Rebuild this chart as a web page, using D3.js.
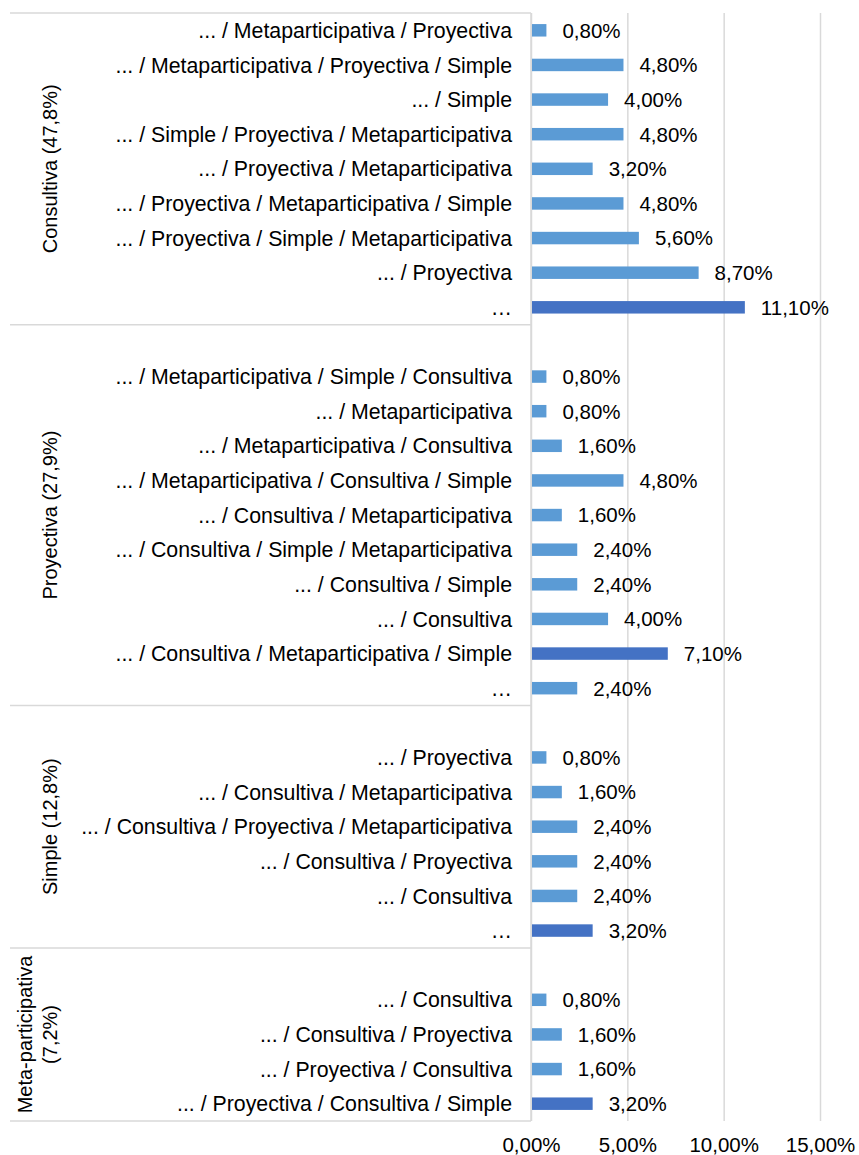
<!DOCTYPE html>
<html>
<head>
<meta charset="utf-8">
<script src="https://cdn.jsdelivr.net/npm/d3@7"></script>
<style>
  body { margin: 0; background: #fff; }
  text { font-family: "Liberation Sans", Arial, sans-serif; fill: #000; }
</style>
</head>
<body>
<svg id="chart" width="859" height="1155"></svg>
<script>
// group names (left, rotated)
var groupNames = ["Consultiva (47,8%)", "Proyectiva (27,9%)", "Simple (12,8%)", ["Meta-participativa", "(7,2%)"]];

// categories and values per group ("" = empty row in the original axis)
var consultivaCats = ["... / Metaparticipativa / Proyectiva", "... / Metaparticipativa / Proyectiva / Simple", "... / Simple",
    "... / Simple / Proyectiva / Metaparticipativa", "... / Proyectiva / Metaparticipativa", "... / Proyectiva / Metaparticipativa / Simple",
    "... / Proyectiva / Simple / Metaparticipativa", "... / Proyectiva", "\u2026"];
var consultivaVals = [0.8, 4.8, 4.0, 4.8, 3.2, 4.8, 5.6, 8.7, 11.1];

var proyectivaCats = ["", "... / Metaparticipativa / Simple / Consultiva", "... / Metaparticipativa", "... / Metaparticipativa / Consultiva",
    "... / Metaparticipativa / Consultiva / Simple", "... / Consultiva / Metaparticipativa", "... / Consultiva / Simple / Metaparticipativa",
    "... / Consultiva / Simple", "... / Consultiva", "... / Consultiva / Metaparticipativa / Simple", "\u2026"];
var proyectivaVals = [null, 0.8, 0.8, 1.6, 4.8, 1.6, 2.4, 2.4, 4.0, 7.1, 2.4];

var simpleCats = ["", "... / Proyectiva", "... / Consultiva / Metaparticipativa", "... / Consultiva / Proyectiva / Metaparticipativa",
    "... / Consultiva / Proyectiva", "... / Consultiva", "\u2026"];
var simpleVals = [null, 0.8, 1.6, 2.4, 2.4, 2.4, 3.2];

var metaCats = ["", "... / Consultiva", "... / Consultiva / Proyectiva", "... / Proyectiva / Consultiva", "... / Proyectiva / Consultiva / Simple"];
var metaVals = [null, 0.8, 1.6, 1.6, 3.2];

var xTicks = [0, 5, 10, 15];

var groupCats = [consultivaCats, proyectivaCats, simpleCats, metaCats];
var groupVals = [consultivaVals, proyectivaVals, simpleVals, metaVals];

var rows = [];
groupCats.forEach(function (cats, g) {
    var max = d3.max(groupVals[g]);
    cats.forEach(function (c, i) {
        var v = groupVals[g][i];
        rows.push({ id: g + "-" + i, group: g, label: c, value: v, top: v === max });
    });
});

var svg = d3.select("#chart");
var plotLeft = 531, plotRight = 820, plotTop = 13, plotBottom = 1121, outerLeft = 10;
var gridColor = "#d9d9d9";
var light = "#5b9bd5", dark = "#4472c4";

var x = d3.scaleLinear().domain([0, 15]).range([plotLeft, plotRight]);
var y = d3.scaleBand()
    .domain(rows.map(function (r) { return r.id; }))
    .range([plotTop, plotBottom])
    .paddingInner(0.64)
    .paddingOuter(0.32);

var locale = d3.formatLocale({ decimal: ",", thousands: ".", grouping: [3], currency: ["", "€"] });
var fmt = locale.format(".2f");
var pct = function (v) { return fmt(v) + "%"; };

// value axis with gridlines
var xAxis = svg.append("g")
    .attr("transform", "translate(0," + plotBottom + ")")
    .call(d3.axisBottom(x).tickValues(xTicks).tickSize(-(plotBottom - plotTop)).tickFormat(pct));
xAxis.select(".domain").remove();
xAxis.selectAll(".tick line").attr("stroke", gridColor).attr("stroke-width", 1.5);
xAxis.selectAll(".tick text")
    .attr("y", 31)
    .attr("dy", 0)
    .style("font-size", "20.5px")
    .style("font-family", "'Liberation Sans', Arial, sans-serif")
    .attr("fill", "#000");

// category axis: group boundaries
var gap = (y.step() - y.bandwidth()) / 2;
var bounds = [plotTop];
groupCats.forEach(function (cats, g) {
    var last = rows.filter(function (r) { return r.group === g; }).pop();
    bounds.push(y(last.id) - gap + y.step());
});

svg.append("g").selectAll("line")
    .data(bounds)
    .enter().append("line")
    .attr("x1", outerLeft).attr("x2", plotLeft)
    .attr("y1", function (d) { return d; }).attr("y2", function (d) { return d; })
    .attr("stroke", gridColor).attr("stroke-width", 1.5);

svg.append("line")
    .attr("x1", plotLeft).attr("x2", plotLeft)
    .attr("y1", plotTop).attr("y2", plotBottom)
    .attr("stroke", gridColor).attr("stroke-width", 1.5);

// bars
var data = rows.filter(function (r) { return r.value != null; });
svg.append("g").selectAll("rect")
    .data(data)
    .enter().append("rect")
    .attr("x", x(0) + 1)
    .attr("y", function (d) { return y(d.id); })
    .attr("width", function (d) { return x(d.value) - x(0) - 1; })
    .attr("height", y.bandwidth())
    .attr("fill", function (d) { return d.top ? dark : light; });

// data labels
svg.append("g").selectAll("text")
    .data(data)
    .enter().append("text")
    .attr("x", function (d) { return x(d.value) + 16; })
    .attr("y", function (d) { return y(d.id) + y.bandwidth() / 2; })
    .attr("dy", "0.36em")
    .style("font-size", "20.5px")
    .text(function (d) { return pct(d.value); });

// category labels
svg.append("g").selectAll("text")
    .data(rows.filter(function (r) { return r.label !== ""; }))
    .enter().append("text")
    .attr("x", plotLeft - 19)
    .attr("y", function (d) { return y(d.id) + y.bandwidth() / 2; })
    .attr("dy", "0.36em")
    .attr("text-anchor", "end")
    .style("font-size", "21.3px")
    .text(function (d) { return d.label; });

// group labels (rotated)
groupNames.forEach(function (name, g) {
    var cy = (bounds[g] + bounds[g + 1]) / 2;
    var lines = Array.isArray(name) ? name : [name];
    var t = svg.append("text")
        .attr("transform", "translate(57," + cy + ") rotate(-90)")
        .attr("text-anchor", "middle")
        .style("font-size", "20px");
    lines.forEach(function (ln, i) {
        t.append("tspan")
            .attr("x", 0)
            .attr("y", (i - (lines.length - 1)) * 25)
            .text(ln);
    });
});
</script>
</body>
</html>
